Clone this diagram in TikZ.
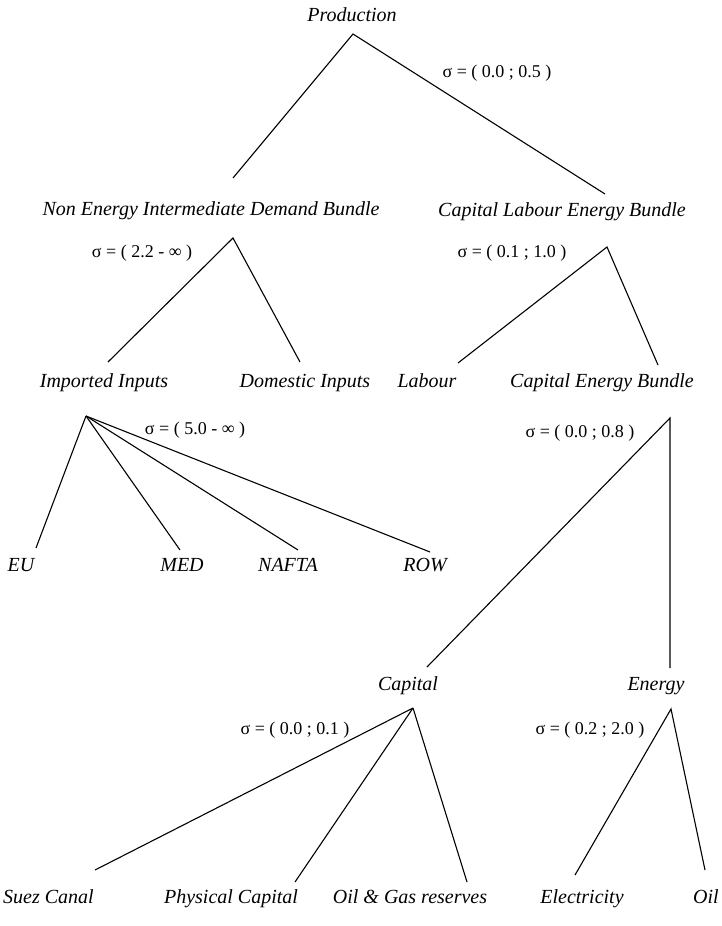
\documentclass[tikz,border=0pt]{standalone}
\usepackage{fontspec}
\setmainfont{Liberation Serif}
\usetikzlibrary{calc}

\begin{document}
\begin{tikzpicture}[
    x=1pt, y=-1pt,
    item/.style={font=\fontsize{20}{22}\selectfont\itshape, inner sep=1pt,
        text height=14pt, text depth=4pt},
    elast/.style={font=\fontsize{18}{20}\selectfont, inner sep=1pt},
    branch/.style={draw=black, line width=1.1pt}
]
\useasboundingbox (0,0) rectangle (722,926);

% ==============================================================================
% LEVEL 1: PRODUCTION
% ==============================================================================
\node[item] (prod) at (352,16) {Production};
\node[elast] (s-prod) at (497,73) {σ = ( 0.0 ; 0.5 )};
\coordinate (prod-fork) at (353,34);
\coordinate (neidb-end) at (233,178);
\coordinate (cleb-end) at (605,194);
\draw[branch] (neidb-end) -- (prod-fork) -- (cleb-end);

% ==============================================================================
% LEVEL 2: BUNDLES
% ==============================================================================
\node[item] (neidb) at (211,210) {Non Energy Intermediate Demand Bundle};
\node[item] (cleb) at (562,211) {Capital Labour Energy Bundle};

\node[elast] (s-neidb) at (142,253) {σ = ( 2.2 - ∞ )};
\coordinate (neidb-fork) at (233,238);
\coordinate (imp-end) at (108,362);
\coordinate (dom-end) at (300,362);
\draw[branch] (imp-end) -- (neidb-fork) -- (dom-end);

\node[elast] (s-cleb) at (512,253) {σ = ( 0.1 ; 1.0 )};
\coordinate (cleb-fork) at (607,247);
\coordinate (lab-end) at (458,363);
\coordinate (ceb-end) at (658,365);
\draw[branch] (lab-end) -- (cleb-fork) -- (ceb-end);

% ==============================================================================
% LEVEL 3: INPUTS, LABOUR, CAPITAL ENERGY
% ==============================================================================
\node[item] (imp) at (104,382) {Imported Inputs};
\node[item] (dom) at (305,382) {Domestic Inputs};
\node[item] (lab) at (427,382) {Labour};
\node[item] (ceb) at (602,382) {Capital Energy Bundle};

\node[elast] (s-imp) at (195,430) {σ = ( 5.0 - ∞ )};
\coordinate (imp-fork) at (86,416);
\coordinate (eu-end) at (36,548);
\coordinate (med-end) at (180,550);
\coordinate (nafta-end) at (298,550);
\coordinate (row-end) at (430,552);
\foreach \e in {eu,med,nafta,row}
    \draw[branch] (imp-fork) -- (\e-end);

\node[elast] (s-ceb) at (580,433) {σ = ( 0.0 ; 0.8 )};
\coordinate (ceb-fork) at (670,418);
\coordinate (cap-end) at (427,667);
\coordinate (ene-end) at (670,668);
\draw[branch] (cap-end) -- (ceb-fork) -- (ene-end);

% ==============================================================================
% LEVEL 4: REGIONS, CAPITAL, ENERGY
% ==============================================================================
\node[item] (eu) at (21,566) {EU};
\node[item] (med) at (182,566) {MED};
\node[item] (nafta) at (288,566) {NAFTA};
\node[item] (row) at (425,566) {ROW};

\node[item] (cap) at (408,685) {Capital};
\node[item] (ene) at (656,685) {Energy};

\node[elast] (s-cap) at (295,730) {σ = ( 0.0 ; 0.1 )};
\coordinate (cap-fork) at (413,708);
\coordinate (suez-end) at (95,870);
\coordinate (phys-end) at (295,882);
\coordinate (oilgas-end) at (467,882);
\foreach \e in {suez,phys,oilgas}
    \draw[branch] (cap-fork) -- (\e-end);

\node[elast] (s-ene) at (590,730) {σ = ( 0.2 ; 2.0 )};
\coordinate (ene-fork) at (671,709);
\coordinate (elec-end) at (575,875);
\coordinate (oil-end) at (705,870);
\draw[branch] (elec-end) -- (ene-fork) -- (oil-end);

% ==============================================================================
% LEVEL 5: CAPITAL AND ENERGY COMPONENTS
% ==============================================================================
\node[item, anchor=west] (suez) at (2,898) {Suez Canal};
\node[item] (phys) at (231,898) {Physical Capital};
\node[item] (oilgas) at (410,898) {Oil \& Gas reserves};
\node[item] (elec) at (582,898) {Electricity};
\node[item] (oil) at (706,898) {Oil};

\end{tikzpicture}
\end{document}
